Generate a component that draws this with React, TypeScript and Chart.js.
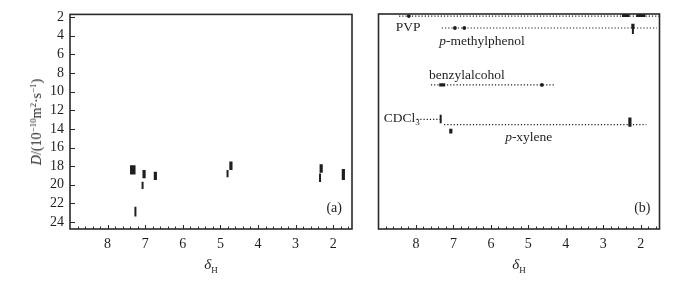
import React, { useEffect, useRef, useState } from 'react';
import { Chart, registerables } from 'chart.js';

Chart.register(...registerables);

// ---------------- data ----------------
const xTickLabels = [8, 7, 6, 5, 4, 3, 2];
const yTickLabels = [2, 4, 6, 8, 10, 12, 14, 16, 18, 20, 22, 24];

// panel (a): DOSY cross peaks of the mixture (shift in ppm, D in 1e-10 m2/s)
const peakAShift = [7.33, 7.26, 7.07, 7.03, 6.73, 4.81, 4.72, 2.35, 2.32, 1.73];
const peakADLow = [17.9, 22.35, 19.67, 18.4, 18.6, 18.4, 17.5, 18.8, 17.8, 18.3];
const peakADHigh = [18.9, 23.4, 20.45, 19.3, 19.5, 19.2, 18.4, 19.7, 18.7, 19.5];
const peakAIntensity = [3, 1, 1, 2, 2, 1, 2, 1, 2, 2];

// panel (b): separated components
const compounds = ['PVP', 'p-methylphenol', 'benzylalcohol', 'CDCl3', 'p-xylene'];
const compoundD = [1.92, 3.2, 9.3, 13.0, 13.55];
const compoundFrom = [8.45, 7.31, 7.6, 7.97, 7.25];
const compoundTo = [1.5, 1.57, 4.3, 7.34, 1.85];

const dotBShift = [8.19, 6.96, 6.71, 4.64];
const dotBD = [1.92, 3.2, 3.2, 9.3];

const peakBShift = [2.21, 2.21, 7.34, 2.29, 7.07];
const peakBDLow = [2.75, 3.2, 12.5, 12.8, 14.0];
const peakBDHigh = [3.25, 3.85, 13.4, 13.8, 14.5];
const peakBIntensity = [2, 1, 1, 2, 2];

const broadBFrom = [2.5, 2.12, 7.38];
const broadBTo = [2.3, 1.88, 7.22];
const broadBD = [1.85, 1.85, 9.3];

// label anchors (data units: shift, D)
const labelShift = [8.54, 7.38, 7.65, 8.86, 5.62];
const labelD = [3.07, 4.57, 8.2, 12.8, 14.9];

// ---------------- config ----------------
const X_MIN = 1.5;
const X_MAX = 9;
const D_MIN = 1.7;
const D_MAX = 24.75;
const FONT = "'Liberation Serif', 'Times New Roman', serif";
const INK = '#1e1e1e';

const isMajor = (v: number) => Math.abs(v - Math.round(v)) < 1e-6;
const minorTicks: number[] = [];
for (let k = 8; k < 45; k++) minorTicks.push(Math.round(k * 2) / 10);

const widthFor = (i: number) => (i >= 3 ? 5.5 : i === 2 ? 3.2 : 2);

const framePlugin = {
  id: 'frame',
  afterDatasetsDraw(chart: any, _args: any, opts: any) {
    const { ctx, chartArea: a } = chart;
    ctx.save();
    ctx.strokeStyle = '#2a2a2a';
    ctx.lineWidth = 1;
    const xs = chart.scales.x;
    xs.ticks.forEach((t: any) => {
      const px = Math.round(xs.getPixelForValue(t.value)) + 0.5;
      const len = isMajor(t.value) ? 4 : 2.5;
      ctx.beginPath();
      ctx.moveTo(px, a.bottom);
      ctx.lineTo(px, a.bottom - len);
      ctx.stroke();
    });
    if (opts && opts.yTicks) {
      const ys = chart.scales.y;
      ys.ticks.forEach((t: any) => {
        const py = Math.round(ys.getPixelForValue(t.value)) + 0.5;
        ctx.beginPath();
        ctx.moveTo(a.left, py);
        ctx.lineTo(a.left + 5, py);
        ctx.stroke();
      });
    }
    ctx.lineWidth = 1.6;
    ctx.strokeRect(a.left, a.top, a.right - a.left, a.bottom - a.top);
    ctx.restore();
  },
};

function makeScales(showY: boolean) {
  return {
    x: {
      type: 'linear',
      min: X_MIN,
      max: X_MAX,
      reverse: true,
      afterBuildTicks: (s: any) => {
        s.ticks = minorTicks.map((v) => ({ value: v }));
      },
      afterFit: (s: any) => {
        s.height = 53;
      },
      grid: { display: false, drawTicks: false },
      border: { display: false },
      ticks: {
        autoSkip: false,
        maxRotation: 0,
        padding: 7,
        color: INK,
        font: { family: FONT, size: 14 },
        callback: (v: any) =>
          isMajor(v) && xTickLabels.includes(Math.round(v)) ? String(Math.round(v)) : '',
      },
    },
    y: {
      type: 'linear',
      display: showY,
      min: D_MIN,
      max: D_MAX,
      reverse: true,
      afterBuildTicks: (s: any) => {
        s.ticks = yTickLabels.map((v) => ({ value: v }));
      },
      afterFit: (s: any) => {
        s.width = showY ? 70 : 0;
      },
      grid: { display: false, drawTicks: false },
      border: { display: false },
      ticks: {
        autoSkip: false,
        padding: 6,
        color: INK,
        font: { family: FONT, size: 14 },
        callback: (v: any) => String(v),
      },
    },
  };
}

function segment(x1: number, y1: number, x2: number, y2: number, width: number, extra: any = {}) {
  return {
    type: 'line',
    data: [
      { x: x1, y: y1 },
      { x: x2, y: y2 },
    ],
    borderColor: INK,
    borderWidth: width,
    borderCapStyle: 'butt',
    pointRadius: 0,
    showLine: true,
    fill: false,
    ...extra,
  };
}

function baseOptions(padding: any, showY: boolean) {
  return {
    responsive: false,
    animation: false,
    events: [],
    layout: { padding },
    scales: makeScales(showY),
    plugins: {
      legend: { display: false },
      tooltip: { enabled: false },
      frame: { yTicks: showY },
    },
  };
}

const renderName = (name: string) => {
  if (name.startsWith('p-')) {
    return (
      <>
        <i>p</i>
        {name.slice(1)}
      </>
    );
  }
  if (name === 'CDCl3') {
    return (
      <>
        CDCl<span style={{ fontSize: 9, position: 'relative', top: 3 }}>3</span>
      </>
    );
  }
  return name;
};

export default function App() {
  const refA = useRef<HTMLCanvasElement>(null);
  const refB = useRef<HTMLCanvasElement>(null);
  const [ov, setOv] = useState<any>(null);

  useEffect(() => {
    document.body.style.margin = '0';
    const dsA = peakAShift.map((x, i) =>
      segment(x, peakADLow[i], x, peakADHigh[i], widthFor(peakAIntensity[i]))
    );
    const chartA = new Chart(refA.current as HTMLCanvasElement, {
      type: 'scatter',
      data: { datasets: dsA as any },
      options: baseOptions({ left: 0, right: 8, top: 14, bottom: 0 }, true) as any,
      plugins: [framePlugin as any],
    });

    const dsB: any[] = [];
    compounds.forEach((_, i) => {
      dsB.push(
        segment(compoundFrom[i], compoundD[i], compoundTo[i], compoundD[i], 1.2, {
          borderDash: [1.2, 2],
        })
      );
    });
    peakBShift.forEach((x, i) => {
      dsB.push(segment(x, peakBDLow[i], x, peakBDHigh[i], widthFor(peakBIntensity[i])));
    });
    broadBFrom.forEach((x, i) => {
      dsB.push(segment(x, broadBD[i], broadBTo[i], broadBD[i], 3.2));
    });
    dsB.push({
      type: 'scatter',
      data: dotBShift.map((x, i) => ({ x, y: dotBD[i] })),
      pointRadius: 1.9,
      pointBackgroundColor: INK,
      pointBorderWidth: 0,
      showLine: false,
    });
    const chartB = new Chart(refB.current as HTMLCanvasElement, {
      type: 'scatter',
      data: { datasets: dsB },
      options: baseOptions({ left: 18.5, right: 21.5, top: 14, bottom: 0 }, false) as any,
      plugins: [framePlugin as any],
    });

    const xs = chartB.scales.x;
    const ys = chartB.scales.y;
    setOv({
      a: { ...chartA.chartArea },
      b: { ...chartB.chartArea },
      labels: compounds.map((name, i) => ({
        name,
        left: 360 + xs.getPixelForValue(labelShift[i]),
        top: ys.getPixelForValue(labelD[i]),
      })),
    });

    return () => {
      chartA.destroy();
      chartB.destroy();
    };
  }, []);

  const textBase: React.CSSProperties = {
    position: 'absolute',
    fontFamily: FONT,
    color: INK,
    whiteSpace: 'nowrap',
    lineHeight: 1,
  };

  const deltaTitle = (cx: number, key: string) => (
    <div
      key={key}
      style={{ ...textBase, left: cx, top: 264, fontSize: 15, transform: 'translate(-50%,-50%)' }}
    >
      <i>δ</i>
      <span style={{ fontSize: 9, position: 'relative', top: 4 }}>H</span>
    </div>
  );

  return (
    <div
      style={{
        position: 'absolute',
        left: 0,
        top: 0,
        width: 681,
        height: 282,
        background: '#fff',
        overflow: 'hidden',
      }}
    >
      <canvas ref={refA} width={360} height={282} style={{ position: 'absolute', left: 0, top: 0 }} />
      <canvas ref={refB} width={321} height={282} style={{ position: 'absolute', left: 360, top: 0 }} />
      {ov && (
        <>
          <div
            style={{
              ...textBase,
              left: 37,
              top: (ov.a.top + ov.a.bottom) / 2,
              fontSize: 14,
              transform: 'translate(-50%,-50%) rotate(-90deg)',
            }}
          >
            <i>D</i>/(10
            <span style={{ fontSize: 9, position: 'relative', top: -5 }}>−10</span>m
            <span style={{ fontSize: 9, position: 'relative', top: -5 }}>2</span>·s
            <span style={{ fontSize: 9, position: 'relative', top: -5 }}>−1</span>)
          </div>
          {deltaTitle((ov.a.left + ov.a.right) / 2, 'da')}
          {deltaTitle(360 + (ov.b.left + ov.b.right) / 2, 'db')}
          <div
            style={{
              ...textBase,
              left: ov.a.right - 10,
              top: ov.a.bottom - 21,
              fontSize: 14,
              transform: 'translate(-100%,-50%)',
            }}
          >
            (a)
          </div>
          <div
            style={{
              ...textBase,
              left: 360 + ov.b.right - 9,
              top: ov.b.bottom - 21,
              fontSize: 14,
              transform: 'translate(-100%,-50%)',
            }}
          >
            (b)
          </div>
          {ov.labels.map((l: any) => (
            <div
              key={l.name}
              style={{
                ...textBase,
                left: l.left,
                top: l.top,
                fontSize: 13.5,
                transform: 'translateY(-50%)',
              }}
            >
              {renderName(l.name)}
            </div>
          ))}
        </>
      )}
    </div>
  );
}
